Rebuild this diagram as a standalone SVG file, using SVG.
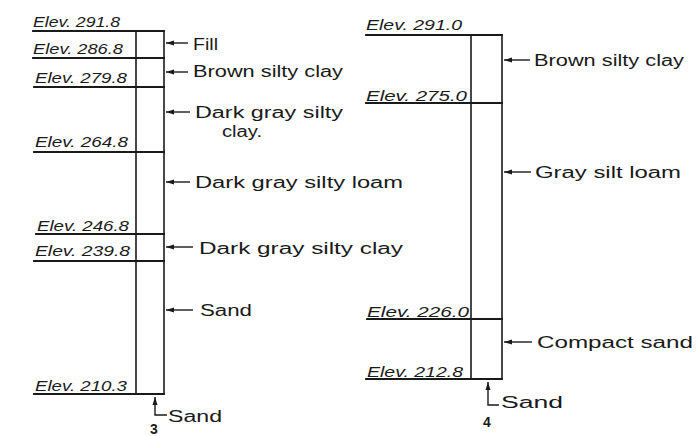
<svg xmlns="http://www.w3.org/2000/svg" width="696" height="436" viewBox="0 0 696 436">
<style>
.bg{fill:#fff}
.ln{stroke:#1a1a1a;stroke-width:1.8;fill:none;stroke-linecap:square}
.col{stroke:#1a1a1a;stroke-width:1.6;fill:none}
.ld{stroke:#1a1a1a;stroke-width:1.4;fill:none}
.el{font-family:"Liberation Sans",Arial,sans-serif;font-style:italic;font-size:14px;fill:#1a1a1a}
.tx{font-family:"Liberation Sans",Arial,sans-serif;font-size:16px;fill:#1a1a1a}
.num{font-family:"Liberation Sans",Arial,sans-serif;font-weight:bold;font-size:14px;fill:#1a1a1a}
</style>
<defs>
<marker id="ah" viewBox="0 0 8 6" refX="0" refY="3" markerWidth="8" markerHeight="6" markerUnits="userSpaceOnUse" orient="auto">
<path d="M0,3 L8,0.5 L8,5.5 Z" fill="#1a1a1a"/>
</marker>
</defs>
<rect class="bg" width="696" height="436"/>

<g id="boring3">
<line class="col" x1="136" y1="31" x2="136" y2="394"/>
<line class="col" x1="164" y1="31" x2="164" y2="394"/>
<line class="ln" x1="33" y1="31" x2="164" y2="31"/>
<line class="ln" x1="33" y1="58" x2="164" y2="58"/>
<line class="ln" x1="34" y1="87" x2="164" y2="87"/>
<line class="ln" x1="34" y1="152" x2="164" y2="152"/>
<line class="ln" x1="36" y1="234" x2="164" y2="234"/>
<line class="ln" x1="34" y1="261" x2="164" y2="261"/>
<line class="ln" x1="34" y1="394" x2="164" y2="394"/>
<text class="el" x="33" y="27" textLength="87" lengthAdjust="spacingAndGlyphs">Elev. 291.8</text>
<text class="el" x="33" y="54" textLength="90" lengthAdjust="spacingAndGlyphs">Elev. 286.8</text>
<text class="el" x="35" y="83" textLength="92" lengthAdjust="spacingAndGlyphs">Elev. 279.8</text>
<text class="el" x="35" y="147" textLength="93" lengthAdjust="spacingAndGlyphs">Elev. 264.8</text>
<text class="el" x="37" y="231" textLength="92" lengthAdjust="spacingAndGlyphs">Elev. 246.8</text>
<text class="el" x="35" y="256" textLength="95" lengthAdjust="spacingAndGlyphs">Elev. 239.8</text>
<text class="el" x="35" y="391" textLength="92" lengthAdjust="spacingAndGlyphs">Elev. 210.3</text>
<text class="num" x="150" y="434">3</text>
</g>

<g id="labels3">
<text class="tx" x="193" y="50" textLength="25" lengthAdjust="spacingAndGlyphs">Fill</text>
<text class="tx" x="193" y="77" textLength="150" lengthAdjust="spacingAndGlyphs">Brown silty clay</text>
<text class="tx" x="195" y="118" textLength="148" lengthAdjust="spacingAndGlyphs">Dark gray silty</text>
<text class="tx" x="222" y="137" textLength="40" lengthAdjust="spacingAndGlyphs">clay.</text>
<text class="tx" x="195" y="188" textLength="208" lengthAdjust="spacingAndGlyphs">Dark gray silty loam</text>
<text class="tx" x="199" y="254" textLength="204" lengthAdjust="spacingAndGlyphs">Dark gray silty clay</text>
<text class="tx" x="200" y="316" textLength="52" lengthAdjust="spacingAndGlyphs">Sand</text>
<text class="tx" x="168" y="422" textLength="54" lengthAdjust="spacingAndGlyphs">Sand</text>
</g>

<g id="boring4">
<line class="col" x1="471" y1="35" x2="471" y2="379"/>
<line class="col" x1="502" y1="35" x2="502" y2="379"/>
<line class="ln" x1="366" y1="35" x2="502" y2="35"/>
<line class="ln" x1="366" y1="103" x2="502" y2="103"/>
<line class="ln" x1="367" y1="319" x2="502" y2="319"/>
<line class="ln" x1="366" y1="379" x2="502" y2="379"/>
<text class="el" x="366" y="30" textLength="96" lengthAdjust="spacingAndGlyphs">Elev. 291.0</text>
<text class="el" x="366" y="101" textLength="101" lengthAdjust="spacingAndGlyphs">Elev. 275.0</text>
<text class="el" x="367" y="317" textLength="102" lengthAdjust="spacingAndGlyphs">Elev. 226.0</text>
<text class="el" x="367" y="377" textLength="96" lengthAdjust="spacingAndGlyphs">Elev. 212.8</text>
<text class="num" x="483" y="427">4</text>
</g>

<g id="labels4">
<text class="tx" x="534" y="66" textLength="150" lengthAdjust="spacingAndGlyphs">Brown silty clay</text>
<text class="tx" x="535" y="178" textLength="146" lengthAdjust="spacingAndGlyphs">Gray silt loam</text>
<text class="tx" x="537" y="348" textLength="156" lengthAdjust="spacingAndGlyphs">Compact sand</text>
<text class="tx" x="501" y="408" textLength="62" lengthAdjust="spacingAndGlyphs">Sand</text>
</g>

<g id="connectors">
<line class="ld" x1="166" y1="43" x2="188" y2="43" marker-start="url(#ah)"/>
<line class="ld" x1="166" y1="72" x2="188" y2="72" marker-start="url(#ah)"/>
<line class="ld" x1="166" y1="112" x2="190" y2="112" marker-start="url(#ah)"/>
<line class="ld" x1="166" y1="182" x2="190" y2="182" marker-start="url(#ah)"/>
<line class="ld" x1="166" y1="247" x2="193" y2="247" marker-start="url(#ah)"/>
<line class="ld" x1="166" y1="310" x2="193" y2="310" marker-start="url(#ah)"/>
<polyline class="ld" points="155,397 155,415 167,415" marker-start="url(#ah)"/>
<line class="ld" x1="504" y1="60" x2="530" y2="60" marker-start="url(#ah)"/>
<line class="ld" x1="504" y1="172" x2="531" y2="172" marker-start="url(#ah)"/>
<line class="ld" x1="504" y1="342" x2="532" y2="342" marker-start="url(#ah)"/>
<polyline class="ld" points="488,382 488,405 499,405" marker-start="url(#ah)"/>
</g>
</svg>
